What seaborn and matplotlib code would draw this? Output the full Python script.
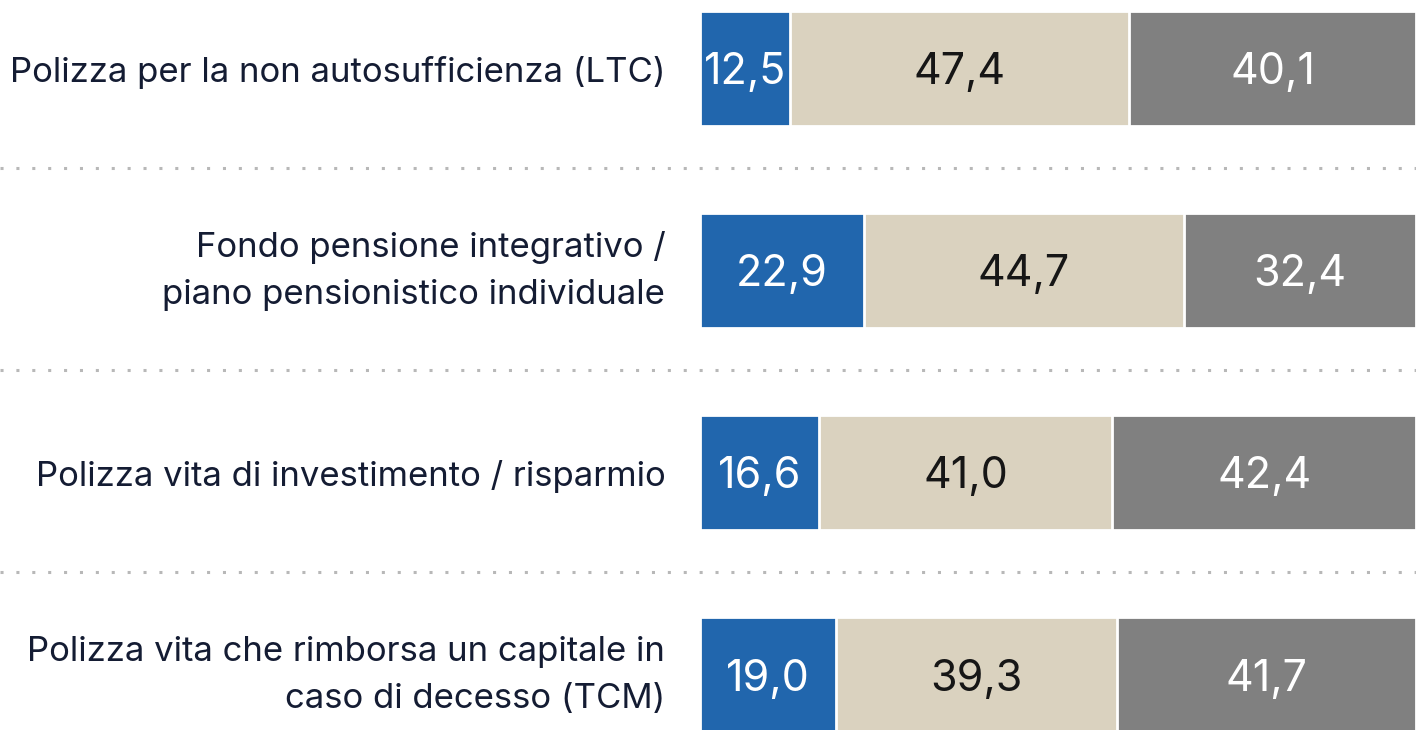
import pandas as pd
import seaborn as sns
import matplotlib.pyplot as plt

categories = [
    "Polizza per la non autosufficienza (LTC)",
    "Fondo pensione integrativo /\npiano pensionistico individuale",
    "Polizza vita di investimento / risparmio",
    "Polizza vita che rimborsa un capitale in\ncaso di decesso (TCM)",
]
seg_a = [12.5, 22.9, 16.6, 19.0]
seg_b = [47.4, 44.7, 41.0, 39.3]
seg_c = [40.1, 32.4, 42.4, 41.7]

colors = ["#2166ad", "#dad2bf", "#808080"]
text_colors = ["white", "#161616", "white"]


def build_graph():
    sns.set_style("white")
    plt.rcParams["font.family"] = ["Inter", "DejaVu Sans"]
    fig = plt.figure(figsize=(14.16, 7.30), dpi=100)
    ax = fig.add_axes([700 / 1416, 0, 716 / 1416, 1])

    df = pd.DataFrame({"cat": categories, "a": seg_a, "b": seg_b, "c": seg_c})
    df["ab"] = df["a"] + df["b"]
    df["abc"] = df["ab"] + df["c"]

    # overlay cumulative bars, widest first
    for col, color in zip(["abc", "ab", "a"], colors[::-1]):
        sns.barplot(data=df, x=col, y="cat", orient="h", color=color,
                    width=0.57, edgecolor="white", linewidth=2,
                    saturation=1, ax=ax)

    # segment values
    for i in range(len(categories)):
        lefts = [0, seg_a[i], seg_a[i] + seg_b[i]]
        vals = [seg_a[i], seg_b[i], seg_c[i]]
        for j in range(3):
            ax.text(lefts[j] + vals[j] / 2, i + 0.02,
                    f"{vals[j]:.1f}".replace(".", ","),
                    ha="center", va="center", fontsize=31,
                    color=text_colors[j], fontweight="normal")

    # dotted separators across the whole figure
    for k in range(len(categories) - 1):
        ax.axhline(k + 0.49, xmin=-0.978, xmax=1, color="#b8b8b8",
                   linestyle=(0, (1, 4.2)), linewidth=2.2, clip_on=False)

    ax.set_xlim(0, 100)
    ax.set_ylim(3.272, -0.339)
    ax.set_xlabel("")
    ax.set_ylabel("")
    ax.set_xticks([])
    ax.tick_params(axis="y", length=0, pad=25, labelsize=25,
                   labelcolor="#141c33")
    for lab in ax.get_yticklabels():
        lab.set_horizontalalignment("right")
        lab.set_multialignment("right")
        lab.set_linespacing(1.6)
        if "\n" in lab.get_text():
            lab.set_verticalalignment("center")
    sns.despine(ax=ax, left=True, bottom=True)

    fig.savefig("out.png", dpi=100)


def main():
    build_graph()


if __name__ == "__main__":
    main()
